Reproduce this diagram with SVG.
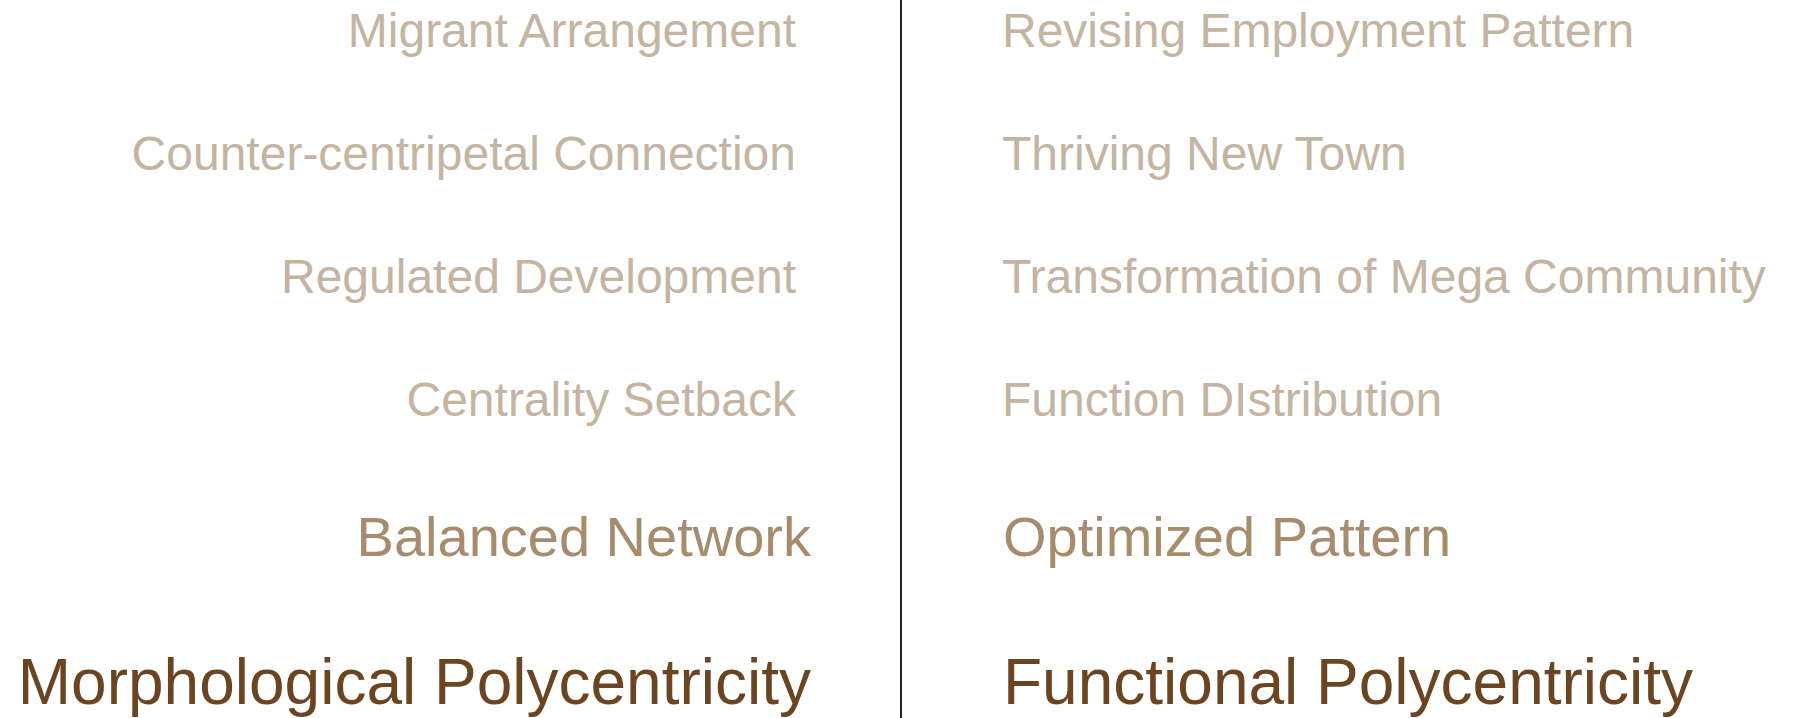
<svg xmlns="http://www.w3.org/2000/svg" width="1802" height="718" viewBox="0 0 1802 718">
  <style>
    text { font-family: "Liberation Sans", Arial, sans-serif; }
    .l { fill: #c4b4a2; font-size: 48px; }
    .m { fill: #a68c6c; font-size: 56px; }
    .d { fill: #6b4521; font-size: 64px; }
    .e { text-anchor: end; }
    .sep { stroke: #222222; stroke-width: 2; }
  </style>
  <rect width="1802" height="718" fill="#ffffff"/>
  <g id="connectors">
    <line class="sep" x1="901" y1="0" x2="901" y2="718"/>
  </g>
  <g id="left">
    <g id="migrant-arrangement"><text class="l e" x="796" y="47">Migrant Arrangement</text></g>
    <g id="counter-centripetal-connection"><text class="l e" x="796" y="170">Counter-centripetal Connection</text></g>
    <g id="regulated-development"><text class="l e" x="796" y="293">Regulated Development</text></g>
    <g id="centrality-setback"><text class="l e" x="796" y="416">Centrality Setback</text></g>
    <g id="balanced-network"><text class="m e" x="811" y="556">Balanced Network</text></g>
    <g id="morphological-polycentricity"><text class="d e" x="811" y="704">Morphological Polycentricity</text></g>
  </g>
  <g id="right">
    <g id="revising-employment-pattern"><text class="l" x="1002" y="47">Revising Employment Pattern</text></g>
    <g id="thriving-new-town"><text class="l" x="1002" y="170">Thriving New Town</text></g>
    <g id="transformation-of-mega-community"><text class="l" x="1002" y="293">Transformation of Mega Community</text></g>
    <g id="function-distribution"><text class="l" x="1002" y="416">Function DIstribution</text></g>
    <g id="optimized-pattern"><text class="m" x="1003" y="556">Optimized Pattern</text></g>
    <g id="functional-polycentricity"><text class="d" x="1003" y="704">Functional Polycentricity</text></g>
  </g>
</svg>
